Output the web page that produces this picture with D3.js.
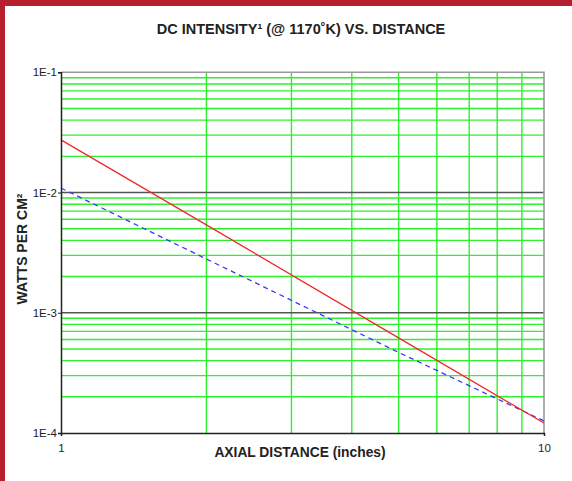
<!DOCTYPE html>
<html>
<head>
<meta charset="utf-8">
<script src="https://cdn.jsdelivr.net/npm/d3@7"></script>
<style>
  html, body { margin: 0; padding: 0; background: #fff; }
  svg { display: block; }
  text { font-family: "Liberation Sans", Arial, sans-serif; fill: #222; }
</style>
</head>
<body>
<svg id="chart" width="572" height="481"></svg>
<script>
// values
var distance = [1, 2, 5, 10];
var redSeries = [0.0274, 0.00538, 0.000618, 0.000121];
var blueSeries = [0.0109, 0.0028, 0.000468, 0.000126];
var yTickValues = [1e-1, 1e-2, 1e-3, 1e-4];
var yTickLabels = ['1E-1', '1E-2', '1E-3', '1E-4'];
var xTickValues = [1, 10];
var xTickLabels = ['1', '10'];

var svg = d3.select('#chart');
var plotLeft = 61, plotRight = 544, plotTop = 72.3, plotBottom = 433;

var x = d3.scaleLog().domain([1, 10]).range([plotLeft, plotRight]);
var y = d3.scaleLog().domain([1e-4, 1e-1]).range([plotBottom, plotTop]);

// red frame strips
svg.append('rect').attr('x', 0).attr('y', 0).attr('width', 572).attr('height', 6).attr('fill', '#b81f2e');
svg.append('rect').attr('x', 0).attr('y', 0).attr('width', 5).attr('height', 481).attr('fill', '#b81f2e');

// minor grid values
var xMinor = [2, 3, 4, 5, 6, 7, 8, 9];
var yMinor = [];
[1e-4, 1e-3, 1e-2].forEach(function(d) {
  for (var k = 2; k <= 9; k++) yMinor.push(d * k);
});

var grid = svg.append('g');
grid.selectAll('.vminor').data(xMinor).enter().append('line')
  .attr('x1', function(d) { return x(d); }).attr('x2', function(d) { return x(d); })
  .attr('y1', plotTop).attr('y2', plotBottom)
  .attr('stroke', '#2ef02e').attr('stroke-width', 1.4);
grid.selectAll('.hminor').data(yMinor).enter().append('line')
  .attr('x1', plotLeft).attr('x2', plotRight)
  .attr('y1', function(d) { return y(d); }).attr('y2', function(d) { return y(d); })
  .attr('stroke', '#2ef02e').attr('stroke-width', 1.4);
// decade lines
grid.selectAll('.hmajor').data([1e-2, 1e-3]).enter().append('line')
  .attr('x1', plotLeft).attr('x2', plotRight)
  .attr('y1', function(d) { return y(d); }).attr('y2', function(d) { return y(d); })
  .attr('stroke', '#555').attr('stroke-width', 1.5);

// top/right border
svg.append('path')
  .attr('d', 'M' + plotLeft + ',' + plotTop + 'H' + plotRight + 'V' + plotBottom)
  .attr('fill', 'none').attr('stroke', '#999').attr('stroke-width', 1.6);

// series
var line = d3.line()
  .x(function(d) { return x(d[0]); })
  .y(function(d) { return y(d[1]); });

svg.append('path')
  .datum(d3.zip(distance, blueSeries))
  .attr('d', line)
  .attr('fill', 'none').attr('stroke', '#3a3aff').attr('stroke-width', 1.3)
  .attr('stroke-dasharray', '5,4');

svg.append('path')
  .datum(d3.zip(distance, redSeries))
  .attr('d', line)
  .attr('fill', 'none').attr('stroke', '#ee2a2a').attr('stroke-width', 1.3);

// axes
var yAxis = d3.axisLeft(y).tickValues(yTickValues)
  .tickFormat(function(d, i) { return yTickLabels[i]; })
  .tickSize(3).tickPadding(1);
var gy = svg.append('g').attr('transform', 'translate(' + plotLeft + ',0)').call(yAxis);
gy.select('.domain').attr('stroke', '#222').attr('stroke-width', 1.5);
gy.selectAll('.tick line').attr('stroke', '#222');
gy.selectAll('.tick text').attr('font-size', 11.5).style('fill', '#222');

var xAxis = d3.axisBottom(x).tickValues(xTickValues)
  .tickFormat(function(d, i) { return xTickLabels[i]; })
  .tickSize(3).tickPadding(8);
var gx = svg.append('g').attr('transform', 'translate(0,' + plotBottom + ')').call(xAxis);
gx.select('.domain').attr('stroke', '#222').attr('stroke-width', 1.5);
gx.selectAll('.tick line').attr('stroke', '#222');
gx.selectAll('.tick text').attr('font-size', 11.5).style('fill', '#222');

// titles
svg.append('text')
  .attr('x', 301).attr('y', 34)
  .attr('text-anchor', 'middle')
  .attr('font-size', 14.5).attr('font-weight', 'bold')
  .text('DC  INTENSITY\u00B9 (@ 1170\u02DAK) VS. DISTANCE');

svg.append('text')
  .attr('x', 300).attr('y', 457)
  .attr('text-anchor', 'middle')
  .attr('font-size', 13.8).attr('font-weight', 'bold')
  .text('AXIAL DISTANCE (inches)');

svg.append('text')
  .attr('transform', 'translate(27,249) rotate(-90)')
  .attr('text-anchor', 'middle')
  .attr('font-size', 14).attr('font-weight', 'bold')
  .text('WATTS PER CM\u00B2');
</script>
</body>
</html>
